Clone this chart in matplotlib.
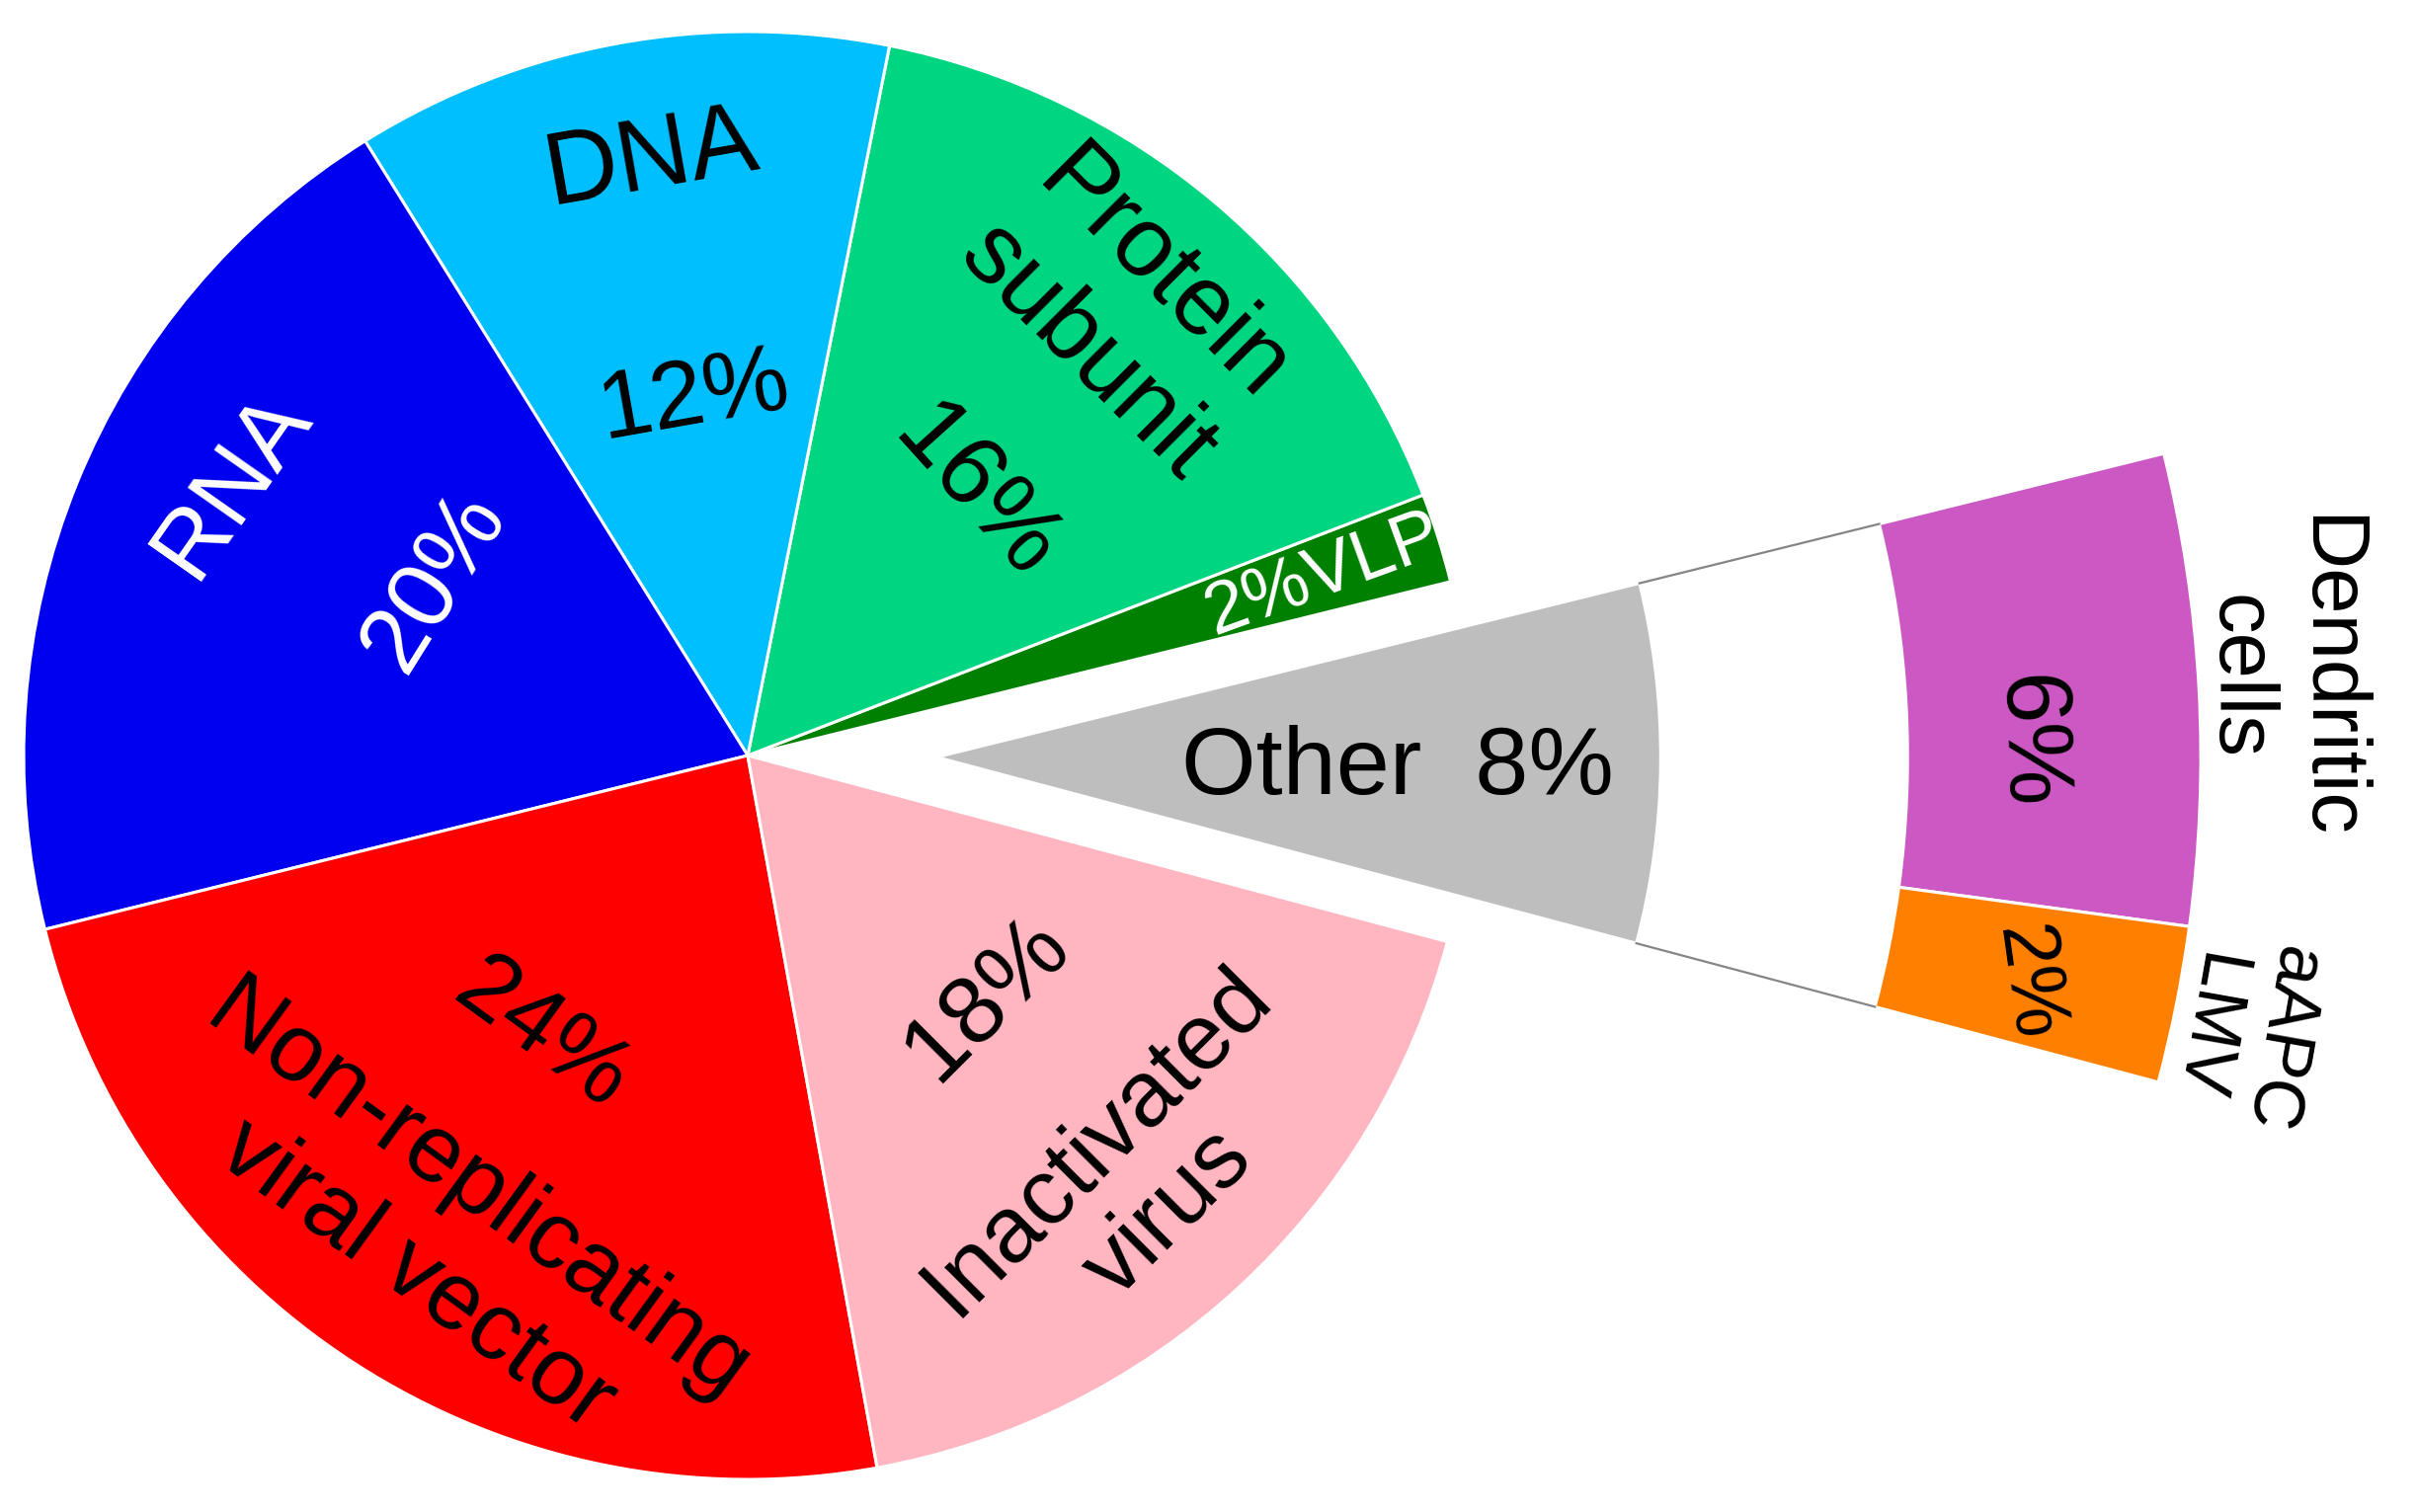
import numpy as np
import matplotlib
matplotlib.use("Agg")
import matplotlib.pyplot as plt

plt.rcParams['font.family'] = ['Liberation Sans', 'DejaVu Sans']

# main pie, counter-clockwise starting with the pulled-out "Other" slice
categories = ["Other", "VLP", "Protein subunit", "DNA", "RNA",
              "Non-replicating viral vector", "Inactivated virus"]
shares = [8, 2, 16, 12, 20, 24, 18]
colors = ["#bebebe", "#008000", "#00d681", "#00bfff", "#0000f0",
          "#ff0000", "#ffb6c1"]

# breakdown of "Other"
other_categories = ["Dendritic cells", "aAPC LMV"]
other_shares = [6, 2]
other_colors = ["#cc58c4", "#ff8000"]

# label layout: text, x, y, rotation, fontsize, color
labels = [
    ("RNA", -0.712, 0.375, 55, 70, "white"),
    ("20%", -0.433, 0.241, 58, 70, "white"),
    ("DNA", -0.132, 0.822, 10, 74, "black"),
    ("12%", -0.074, 0.494, 10, 70, "black"),
    ("Protein\nsubunit", 0.521, 0.609, -45, 72, "black"),
    ("16%", 0.315, 0.362, -48, 72, "black"),
    ("2%VLP", 0.795, 0.251, 20, 54, "white"),
    ("Other  8%", 0.897, -0.019, 0, 70, "black"),
    ("24%", -0.285, -0.386, -36, 70, "black"),
    ("Non-replicating\nviral vector", -0.416, -0.662, -36, 70, "black"),
    ("18%", 0.330, -0.336, 45, 70, "black"),
    ("Inactivated\nvirus", 0.532, -0.584, 45, 68, "black"),
    ("6%", 1.768, 0.019, -88, 68, "black"),
    ("Dendritic\ncells", 2.12, 0.108, -90, 60, "black"),
    ("2%", 1.766, -0.315, -82, 58, "black"),
    ("aAPC\nLMV", 2.065, -0.383, -100, 52, "black"),
]

start_angle = -14.9
pull_out = 0.261
ring_outer = 1.746
ring_width = 0.405

# pie centre and radius in output pixels
cx, cy, rad = 757, 765, 733
width_px, height_px = 2446, 1531

fig = plt.figure(figsize=(width_px / 100, height_px / 100), dpi=100)
ax = fig.add_axes([0, 0, 1, 1])

explode = [pull_out] + [0] * (len(shares) - 1)
wedges, _ = ax.pie(shares, colors=colors, startangle=start_angle,
                   counterclock=True, explode=explode, radius=1.0,
                   wedgeprops=dict(edgecolor="white", linewidth=2.2))

# the pulled-out slice defines where the breakdown ring sits
w0 = wedges[0]
apex = np.array(w0.center)
span = w0.theta2 - w0.theta1
sub_total = sum(other_shares)
rest = sub_total * 360.0 / span - sub_total

ring, _ = ax.pie(other_shares + [rest], colors=other_colors + ["white"],
                 startangle=w0.theta2, counterclock=False, center=tuple(apex),
                 radius=ring_outer,
                 wedgeprops=dict(width=ring_width, edgecolor="white",
                                 linewidth=2.2))
ring[-1].set_visible(False)

# connector lines between the slice and the ring
for ang in (w0.theta1, w0.theta2):
    d = np.array([np.cos(np.radians(ang)), np.sin(np.radians(ang))])
    p0 = apex + d * w0.r
    p1 = apex + d * (ring_outer - ring_width)
    ax.plot([p0[0], p1[0]], [p0[1], p1[1]], color="#858585", lw=1.6)

for txt, x, y, rot, fs, col in labels:
    ax.text(x, y, txt, rotation=rot, fontsize=fs, color=col,
            ha="center", va="center")

ax.set_xlim(-cx / rad, (width_px - cx) / rad)
ax.set_ylim(-(height_px - cy) / rad, cy / rad)
ax.set_aspect("equal")
ax.axis("off")

fig.savefig("out.png", dpi=100)
